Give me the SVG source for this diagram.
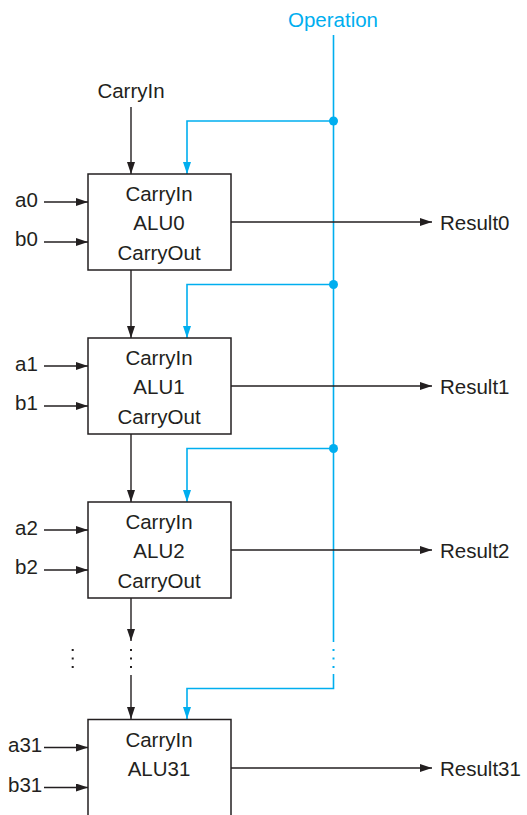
<svg xmlns="http://www.w3.org/2000/svg" width="527" height="815" viewBox="0 0 527 815">
<defs>
<style>
.t{font-family:"Liberation Sans",Arial,sans-serif;font-size:20.5px;fill:#231f20}
.m{text-anchor:middle}
.op{fill:#00aeef}
.box{fill:#fff;stroke:#231f20;stroke-width:1.5}
.k{stroke:#231f20;stroke-width:1.4;fill:none}
.b{stroke:#00aeef;stroke-width:1.6;fill:none}
</style>
<marker id="ak" viewBox="0 0 12 8" refX="12" refY="4" markerWidth="12" markerHeight="8" markerUnits="userSpaceOnUse" orient="auto"><path d="M0,0 L12,4 L0,8 Z" fill="#231f20"/></marker>
<marker id="ab" viewBox="0 0 12 8" refX="12" refY="4" markerWidth="12" markerHeight="8" markerUnits="userSpaceOnUse" orient="auto"><path d="M0,0 L12,4 L0,8 Z" fill="#00aeef"/></marker>
</defs>
<rect width="527" height="815" fill="#fff"/>
<g id="connectors">
<!-- Operation bus -->
<path class="b" d="M333.5,35 V642 M333.5,674 V688.5 H187 V719" marker-end="url(#ab)"/>
<path class="b" d="M333.5,121 H187 V174" marker-end="url(#ab)"/>
<path class="b" d="M333.5,284.5 H187 V338" marker-end="url(#ab)"/>
<path class="b" d="M333.5,448.5 H187 V502" marker-end="url(#ab)"/>
<circle cx="333.5" cy="121" r="4.5" fill="#00aeef"/>
<circle cx="333.5" cy="284.5" r="4.5" fill="#00aeef"/>
<circle cx="333.5" cy="448.5" r="4.5" fill="#00aeef"/>
<g fill="#00aeef"><rect x="332.5" y="649" width="2" height="2"/><rect x="332.5" y="657.5" width="2" height="2"/><rect x="332.5" y="666" width="2" height="2"/></g>
<!-- carry chain -->
<path class="k" d="M131,107 V174" marker-end="url(#ak)"/>
<path class="k" d="M131,270 V338" marker-end="url(#ak)"/>
<path class="k" d="M131,434 V502" marker-end="url(#ak)"/>
<path class="k" d="M131,598 V641" marker-end="url(#ak)"/>
<path class="k" d="M131,675 V719" marker-end="url(#ak)"/>
<g fill="#231f20"><rect x="130" y="649" width="2" height="2"/><rect x="130" y="657.5" width="2" height="2"/><rect x="130" y="666" width="2" height="2"/>
<rect x="71.7" y="649" width="2" height="2"/><rect x="71.7" y="657.5" width="2" height="2"/><rect x="71.7" y="666" width="2" height="2"/></g>
<!-- inputs -->
<path class="k" d="M44,202 H88" marker-end="url(#ak)"/>
<path class="k" d="M44,242 H88" marker-end="url(#ak)"/>
<path class="k" d="M44,366 H88" marker-end="url(#ak)"/>
<path class="k" d="M44,406 H88" marker-end="url(#ak)"/>
<path class="k" d="M44,530 H88" marker-end="url(#ak)"/>
<path class="k" d="M44,570 H88" marker-end="url(#ak)"/>
<path class="k" d="M44,747.5 H88" marker-end="url(#ak)"/>
<path class="k" d="M44,787.5 H88" marker-end="url(#ak)"/>
<!-- results -->
<path class="k" d="M231,222 H432" marker-end="url(#ak)"/>
<path class="k" d="M231,386 H432" marker-end="url(#ak)"/>
<path class="k" d="M231,550 H432" marker-end="url(#ak)"/>
<path class="k" d="M231,768 H432" marker-end="url(#ak)"/>
</g>
<text class="t op m" x="333" y="26.5">Operation</text>
<text class="t m" x="131" y="98">CarryIn</text>
<g id="alu0">
<rect class="box" x="88" y="174" width="143" height="96"/>
<text class="t m" x="159" y="201">CarryIn</text>
<text class="t m" x="159" y="230">ALU0</text>
<text class="t m" x="159" y="260">CarryOut</text>
<text class="t" x="15" y="207">a0</text>
<text class="t" x="15" y="246">b0</text>
<text class="t" x="440" y="230">Result0</text>
</g>
<g id="alu1">
<rect class="box" x="88" y="338" width="143" height="96"/>
<text class="t m" x="159" y="365">CarryIn</text>
<text class="t m" x="159" y="394">ALU1</text>
<text class="t m" x="159" y="424">CarryOut</text>
<text class="t" x="15" y="371">a1</text>
<text class="t" x="15" y="410">b1</text>
<text class="t" x="440" y="394">Result1</text>
</g>
<g id="alu2">
<rect class="box" x="88" y="502" width="143" height="96"/>
<text class="t m" x="159" y="529">CarryIn</text>
<text class="t m" x="159" y="558">ALU2</text>
<text class="t m" x="159" y="588">CarryOut</text>
<text class="t" x="15" y="535">a2</text>
<text class="t" x="15" y="574">b2</text>
<text class="t" x="440" y="558">Result2</text>
</g>
<g id="alu31">
<rect class="box" x="88" y="719.5" width="143" height="120"/>
<text class="t m" x="159" y="747">CarryIn</text>
<text class="t m" x="159" y="776">ALU31</text>
<text class="t" x="8" y="752">a31</text>
<text class="t" x="8" y="792">b31</text>
<text class="t" x="440" y="776">Result31</text>
</g>
</svg>
